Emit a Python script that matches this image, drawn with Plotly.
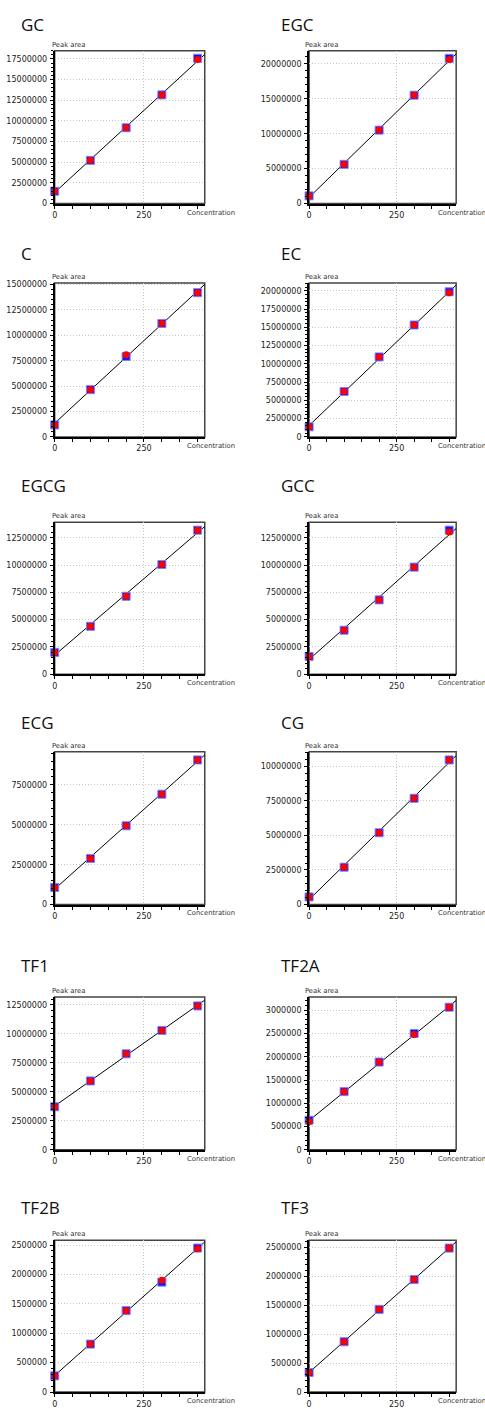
import numpy as np
import plotly.graph_objects as go

# Calibration standards (concentration) and measured peak areas per compound
concentration = [0, 100, 200, 300, 400]

compounds = ["GC", "EGC", "C", "EC", "EGCG", "GCC", "ECG", "CG", "TF1", "TF2A", "TF2B", "TF3"]

# replicate 1 (blue squares)
area_rep1 = {
    "GC":   [1490000, 5230000, 9170000, 13150000, 17580000],
    "EGC":  [1100000, 5620000, 10520000, 15520000, 20800000],
    "C":    [1180000, 4650000, 7920000, 11160000, 14200000],
    "EC":   [1380000, 6210000, 10940000, 15310000, 19860000],
    "EGCG": [2000000, 4390000, 7140000, 10050000, 13200000],
    "GCC":  [1630000, 4030000, 6810000, 9810000, 13200000],
    "ECG":  [1070000, 2890000, 4940000, 6920000, 9070000],
    "CG":   [550000, 2700000, 5190000, 7680000, 10450000],
    "TF1":  [3710000, 5940000, 8280000, 10300000, 12410000],
    "TF2A": [636000, 1250000, 1886000, 2500000, 3064000],
    "TF2B": [276000, 816000, 1385000, 1870000, 2450000],
    "TF3":  [338000, 870000, 1430000, 1945000, 2489000],
}

# replicate 2 (red circles)
area_rep2 = {
    "GC":   [1490000, 5230000, 9170000, 13150000, 17420000],
    "EGC":  [1100000, 5620000, 10520000, 15520000, 20620000],
    "C":    [1180000, 4650000, 8080000, 11160000, 14200000],
    "EC":   [1380000, 6210000, 10940000, 15310000, 19720000],
    "EGCG": [2000000, 4390000, 7140000, 10050000, 13200000],
    "GCC":  [1630000, 4030000, 6810000, 9810000, 13040000],
    "ECG":  [1070000, 2890000, 4940000, 6920000, 9070000],
    "CG":   [550000, 2700000, 5190000, 7680000, 10450000],
    "TF1":  [3710000, 5940000, 8280000, 10300000, 12410000],
    "TF2A": [607000, 1250000, 1886000, 2479000, 3064000],
    "TF2B": [276000, 816000, 1385000, 1903000, 2438000],
    "TF3":  [338000, 870000, 1430000, 1945000, 2489000],
}

# axis settings per compound: y maximum and labelled tick step
y_max = {
    "GC": 18500000, "EGC": 21900000, "C": 15150000, "EC": 21060000,
    "EGCG": 13920000, "GCC": 13920000, "ECG": 9590000, "CG": 11050000,
    "TF1": 13190000, "TF2A": 3286000, "TF2B": 2584000, "TF3": 2626000,
}
y_step = {
    "GC": 2500000, "EGC": 5000000, "C": 2500000, "EC": 2500000,
    "EGCG": 2500000, "GCC": 2500000, "ECG": 2500000, "CG": 2500000,
    "TF1": 2500000, "TF2A": 500000, "TF2B": 500000, "TF3": 500000,
}
x_max = 420
x_ticks = [0, 250]

W, H = 485, 1409
col_left = [(52, 203), (308, 456)]
row_top_bottom = [(48, 202), (282, 437), (523, 676), (754, 908), (1001, 1155), (1246, 1399)]
title_y = [22, 252, 486, 725, 969, 1213]
title_x = [16, 278]
label_x = [47, 302]

tick_font = dict(family="DejaVu Sans", size=8, color="#222")
small_font = dict(family="DejaVu Sans", size=6.8, color="#333")
grid_dash = "1px,2px"

fig = go.Figure()
annotations = []
shapes = []

for i, name in enumerate(compounds):
    r, c = divmod(i, 2)
    n = i + 1
    xa = "x" if n == 1 else f"x{n}"
    ya = "y" if n == 1 else f"y{n}"
    xl, xr = col_left[c]
    top, bottom = row_top_bottom[r]

    # least-squares calibration line
    slope, intercept = np.polyfit(concentration, area_rep2[name], 1)
    line_x = np.array([0, x_max])
    fig.add_trace(go.Scatter(
        x=line_x, y=slope * line_x + intercept, mode="lines",
        line=dict(color="black", width=1), xaxis=xa, yaxis=ya,
        showlegend=False, hoverinfo="skip"))
    fig.add_trace(go.Scatter(
        x=concentration, y=area_rep1[name], mode="markers",
        marker=dict(symbol="square", size=8, color="#1010ff",
                    line=dict(color="#8080ff", width=1)),
        xaxis=xa, yaxis=ya, cliponaxis=False, showlegend=False))
    fig.add_trace(go.Scatter(
        x=concentration, y=area_rep2[name], mode="markers",
        marker=dict(symbol="circle", size=7, color="#ff0000",
                    line=dict(width=0)),
        xaxis=xa, yaxis=ya, cliponaxis=False, showlegend=False))

    xdom = [xl / W, xr / W]
    ydom = [1 - bottom / H, 1 - top / H]
    step = y_step[name]
    fig.layout[("xaxis" if n == 1 else f"xaxis{n}")] = dict(
        domain=xdom, anchor=ya, range=[0, x_max],
        tickmode="array", tickvals=x_ticks, ticktext=[str(v) for v in x_ticks],
        ticks="outside", ticklen=3, tickwidth=1, tickcolor="black",
        minor=dict(dtick=50, tick0=0, ticks="outside", ticklen=3,
                   tickcolor="black", showgrid=False),
        showline=True, linecolor="black", linewidth=2,
        showgrid=True, gridcolor="#c4c4c4", griddash=grid_dash, gridwidth=1,
        zeroline=False, tickfont=tick_font, ticklabelstandoff=0,
        fixedrange=True)
    fig.layout[("yaxis" if n == 1 else f"yaxis{n}")] = dict(
        domain=ydom, anchor=xa, range=[0, y_max[name]],
        tick0=0, dtick=step, tickformat="d",
        ticks="outside", ticklen=3, tickwidth=1, tickcolor="black",
        minor=dict(dtick=step / 5, tick0=0, ticks="outside", ticklen=2,
                   tickcolor="black", showgrid=False),
        showline=True, linecolor="black", linewidth=2,
        showgrid=True, gridcolor="#c4c4c4", griddash=grid_dash, gridwidth=1,
        zeroline=False, tickfont=tick_font, ticklabelstandoff=1,
        fixedrange=True)

    # plot frame (top and right edges)
    shapes.append(dict(type="rect", xref=f"{xa} domain", yref=f"{ya} domain",
                       x0=0, x1=1, y0=0, y1=1,
                       line=dict(color="#444", width=1.5), layer="below"))

    annotations.append(dict(text=name, x=title_x[c] / W, y=1 - title_y[r] / H,
                            xref="paper", yref="paper", xanchor="left",
                            yanchor="middle", showarrow=False,
                            font=dict(family="Open Sans", size=17, color="#111")))
    annotations.append(dict(text="Peak area", x=label_x[c] / W, y=1 - (top - 6) / H,
                            xref="paper", yref="paper", xanchor="left",
                            yanchor="middle", showarrow=False, font=small_font))
    annotations.append(dict(text="Concentration", x=(xr - 20) / W,
                            y=1 - (bottom + 9) / H,
                            xref="paper", yref="paper", xanchor="left",
                            yanchor="middle", showarrow=False, font=small_font))

fig.update_layout(
    width=W, height=H, margin=dict(l=0, r=0, t=0, b=0),
    paper_bgcolor="white", plot_bgcolor="white",
    annotations=annotations, shapes=shapes, showlegend=False)

fig.write_html("out.html")
